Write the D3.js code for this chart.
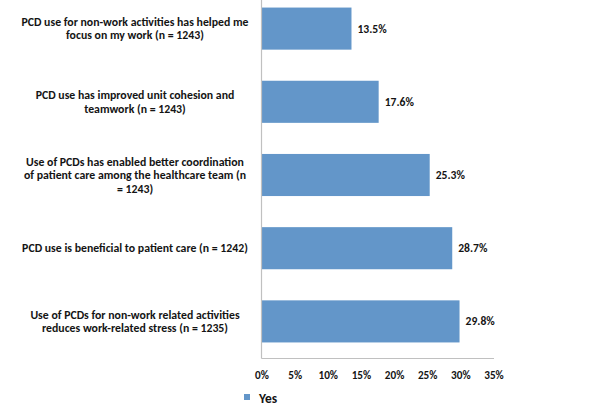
<!DOCTYPE html>
<html>
<head>
<meta charset="utf-8">
<script src="https://cdn.jsdelivr.net/npm/d3@7"></script>
<style>
  html, body { margin: 0; padding: 0; background: #fff; }
  svg { display: block; }
  text { font-family: Carlito, Lato, "Liberation Sans", Arial, sans-serif; font-weight: bold; fill: #141414; }
</style>
</head>
<body>
<svg id="chart" width="605" height="406"></svg>
<script>
const categories = [
  "PCD use for non-work activities has helped me\nfocus on my work (n = 1243)",
  "PCD use has improved unit cohesion and\nteamwork (n = 1243)",
  "Use of PCDs has enabled better coordination\nof patient care among the healthcare team (n\n= 1243)",
  "PCD use is beneficial to patient care (n = 1242)",
  "Use of PCDs for non-work related activities\nreduces work-related stress (n = 1235)"
];
const yesValues = [13.5, 17.6, 25.3, 28.7, 29.8];
const xTicks = [0, 5, 10, 15, 20, 25, 30, 35];
const seriesName = "Yes";

const svg = d3.select("#chart");
const barColor = "#6396c9";

const x = d3.scaleLinear().domain([0, 35]).range([262, 494]);
const y = d3.scaleBand().domain(categories).range([-8, 358])
  .paddingInner(0.425).paddingOuter(0.2125);

// bars
svg.append("g").selectAll("rect").data(yesValues).join("rect")
  .attr("x", x(0))
  .attr("y", (d, i) => y(categories[i]))
  .attr("width", d => x(d) - x(0))
  .attr("height", y.bandwidth())
  .attr("fill", barColor);

// value labels
svg.append("g").selectAll("text").data(yesValues).join("text")
  .attr("x", d => x(d) + 6)
  .attr("y", (d, i) => y(categories[i]) + y.bandwidth() / 2)
  .attr("dy", "0.35em")
  .attr("font-size", 11.6)
  .text(d => d.toFixed(1) + "%");

// axes lines
svg.append("line").attr("x1", x(0) - 0.5).attr("x2", x(0) - 0.5)
  .attr("y1", 0).attr("y2", 358.5).attr("stroke", "#c0c0c0").attr("stroke-width", 1.2);
svg.append("line").attr("x1", x(0) - 0.5).attr("x2", x(35))
  .attr("y1", 358.5).attr("y2", 358.5).attr("stroke", "#c0c0c0").attr("stroke-width", 1.2);

// x tick labels
svg.append("g").selectAll("text").data(xTicks).join("text")
  .attr("x", d => x(d))
  .attr("y", 375)
  .attr("dy", "0.35em")
  .attr("text-anchor", "middle")
  .attr("font-size", 11.2)
  .text(d => d + "%");

// category labels
const lh = 13.5;
svg.append("g").selectAll("text").data(categories).join("text")
  .attr("text-anchor", "middle")
  .attr("font-size", 11.8)
  .each(function(c) {
    const lines = c.split("\n");
    const cy = y(c) + y.bandwidth() / 2;
    const t = d3.select(this);
    lines.forEach((ln, j) => {
      t.append("tspan")
        .attr("x", 135)
        .attr("y", cy + (j - (lines.length - 1) / 2) * lh)
        .attr("dy", "0.35em")
        .text(ln);
    });
  });

// legend
svg.append("rect").attr("x", 244).attr("y", 394).attr("width", 6).attr("height", 6).attr("fill", barColor);
svg.append("text").attr("x", 259).attr("y", 398).attr("dy", "0.35em")
  .attr("font-size", 13.5).text(seriesName);
</script>
</body>
</html>
